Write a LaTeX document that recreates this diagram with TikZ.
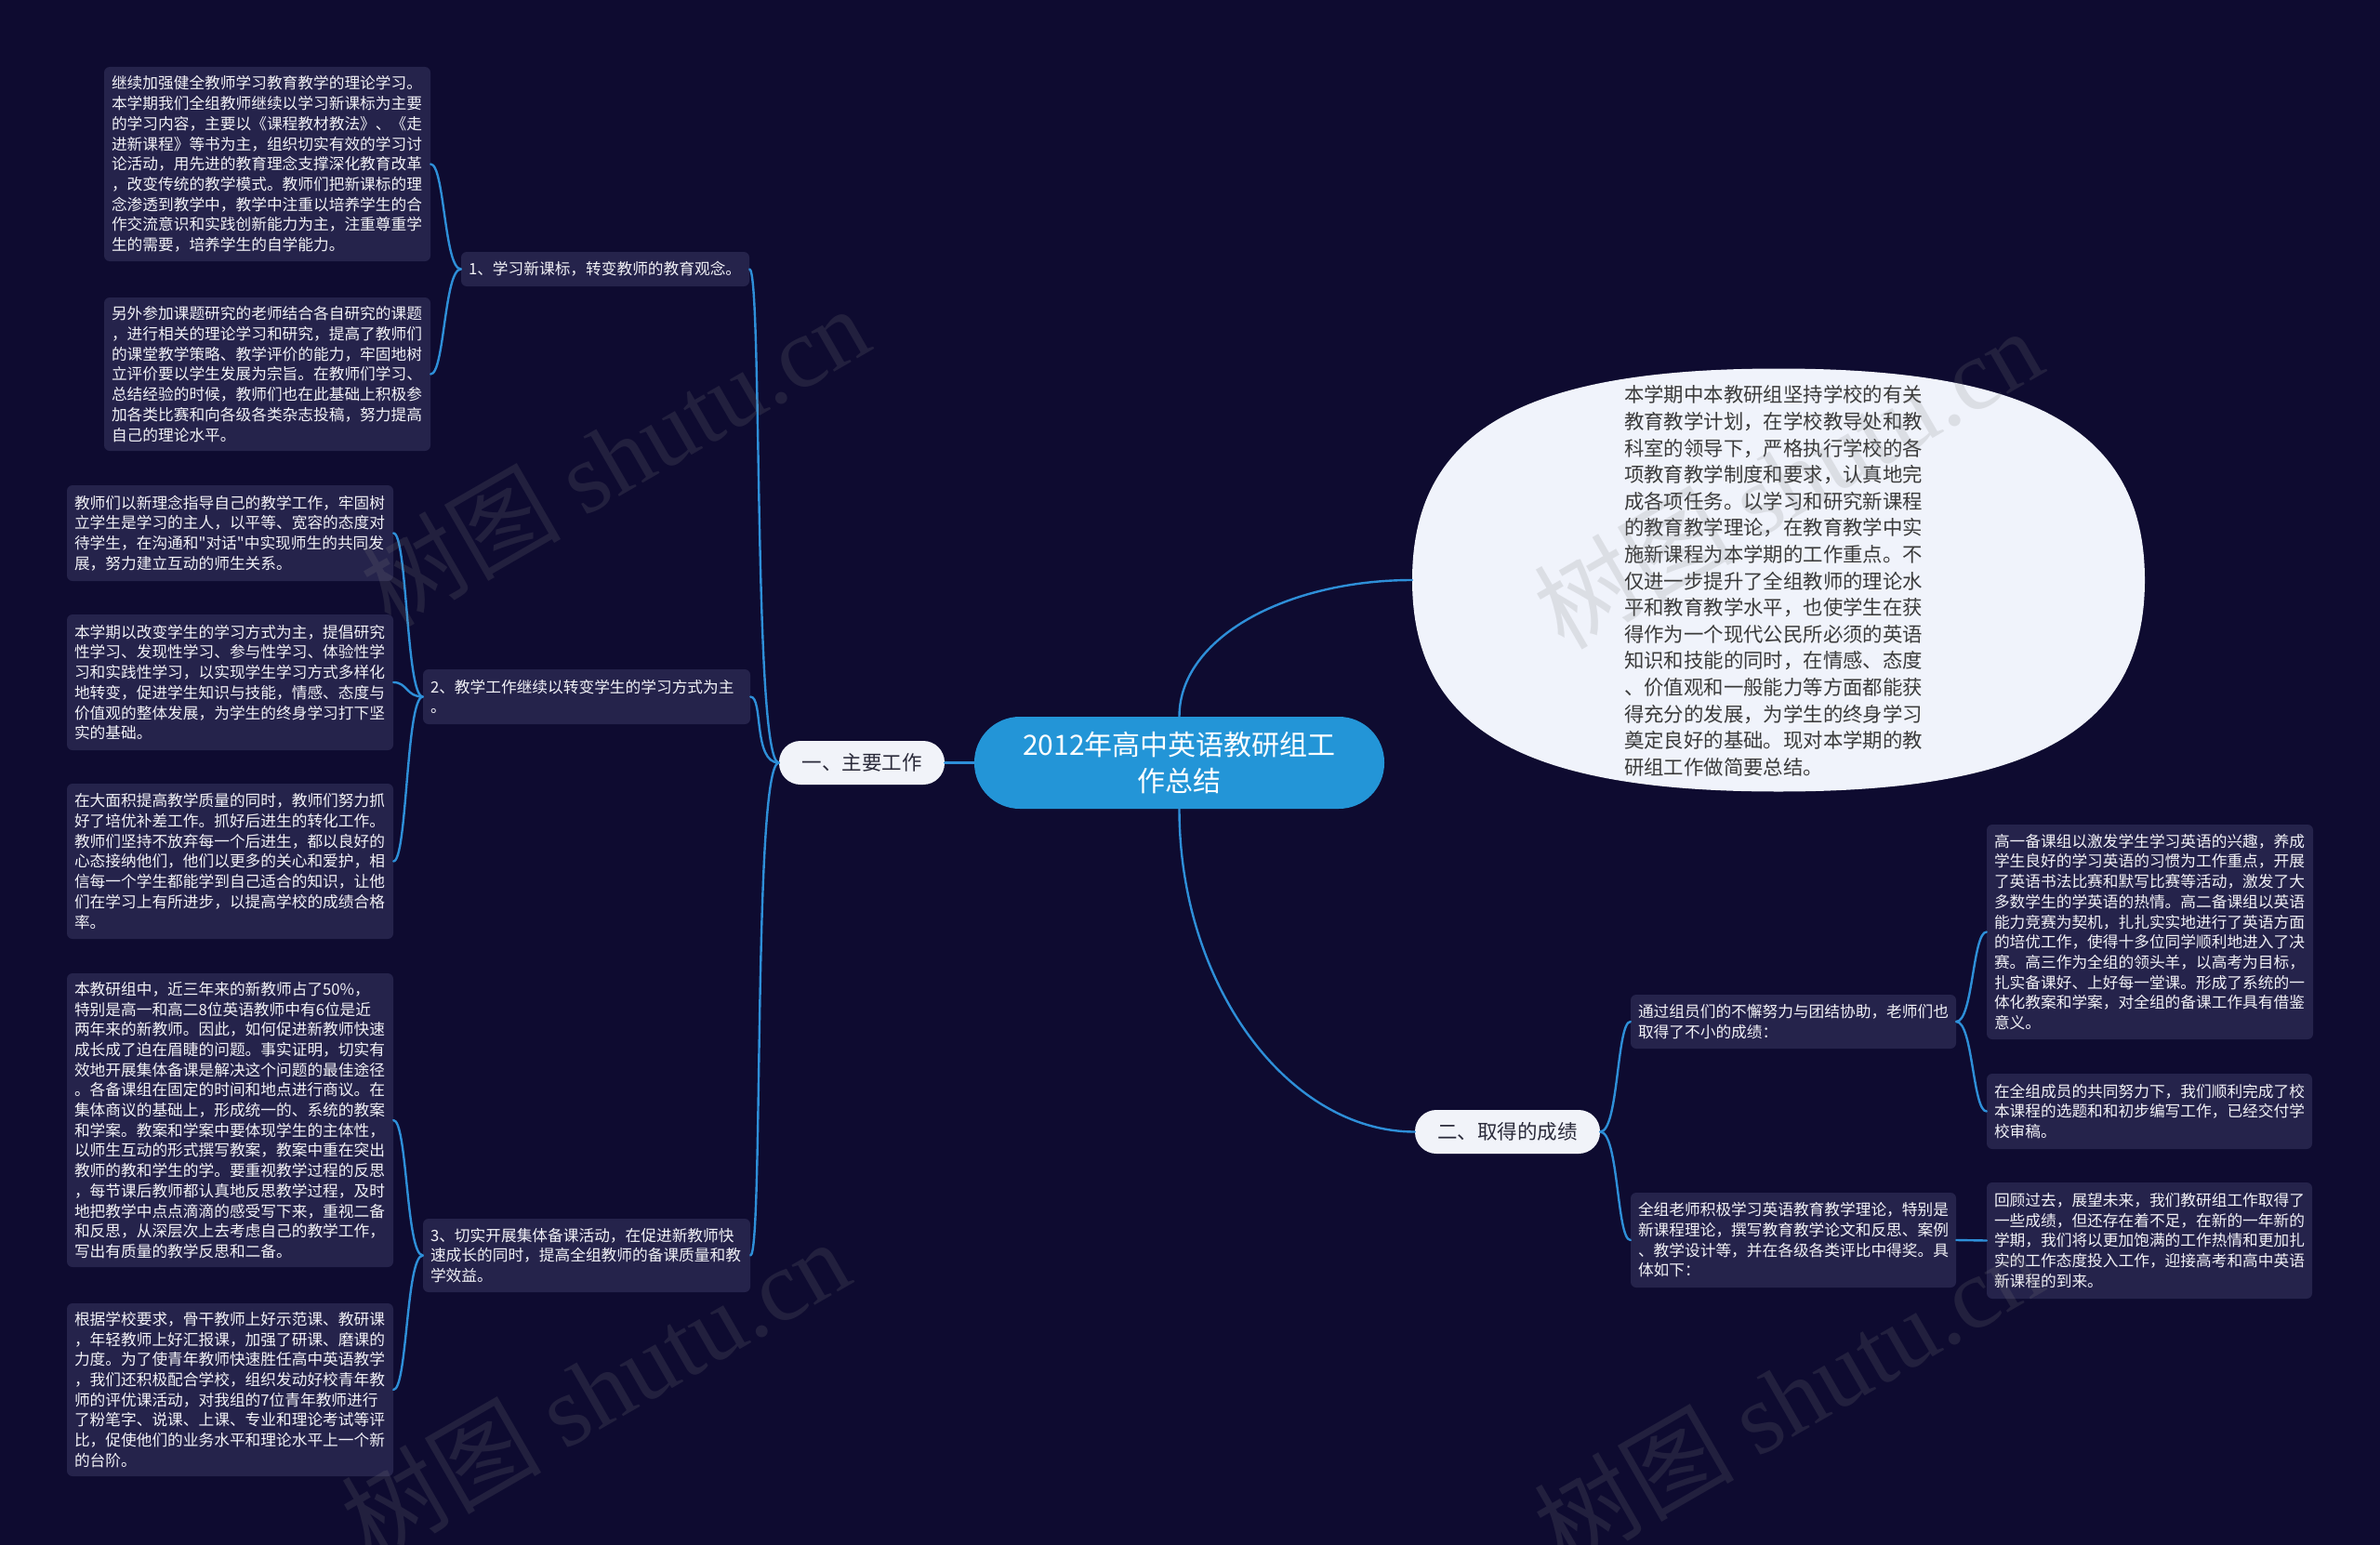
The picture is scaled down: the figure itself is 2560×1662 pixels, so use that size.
\documentclass[tikz,border=0pt]{standalone}
\usepackage{fontspec}
\setmainfont{Noto Sans CJK SC}[Ligatures=TeXOff]
\newfontfamily\wmfont{Liberation Serif}
\definecolor{bgc}{HTML}{0E0B30}
\definecolor{cardc}{HTML}{25234B}
\definecolor{linec}{HTML}{2E8FD8}
\definecolor{rootc}{HTML}{2395D7}
\definecolor{ellc}{HTML}{F0F3FB}
\definecolor{elltext}{HTML}{3A3A3A}
\definecolor{pillc}{HTML}{F1F3F9}
\definecolor{pilltext}{HTML}{2A2A3A}
\definecolor{cardtext}{HTML}{F2F2F7}
\begin{document}
\begin{tikzpicture}[x=1pt,y=-1pt,
  card/.style={fill=cardc, rounded corners=6pt, text=cardtext, align=left,
    inner xsep=8pt, inner ysep=0pt, font=\fontsize{16.7}{21.7}\selectfont},
  pill/.style={fill=pillc, rounded corners=23pt, text=pilltext, inner sep=0pt,
    minimum height=47pt, font=\fontsize{21.5}{26}\selectfont},
  conn/.style={draw=linec, line width=2.4pt, line cap=round},
  wm/.style={text=gray, opacity=0.18, rotate=30, font=\fontsize{108}{118}\selectfont}
]
\fill[bgc] (0,0) rectangle (2560,1662);
\useasboundingbox (0,0) rectangle (2560,1662);

% root and main branches
\node[fill=rootc, rounded corners=49pt, minimum width=441pt, minimum height=99pt,
  text=white, align=center, inner sep=0pt, font=\fontsize{30}{39}\selectfont]
  (root) at (1268.5,820.5) {2012年高中英语教研组工\\作总结};
% summary bubble (rounded ellipse)
\fill[ellc] (2307,624) .. controls (2307,462) and (2185,396.5) .. (1913,396.5)
  .. controls (1641,396.5) and (1519,462) .. (1519,624)
  .. controls (1519,786) and (1641,851.5) .. (1913,851.5)
  .. controls (2185,851.5) and (2307,786) .. cycle;
\coordinate (ellw) at (1519,624);
\node[text=elltext, align=left, inner sep=0pt, font=\fontsize{21.4}{28.6}\selectfont] (elltxt) at (1907.5,625) {本学期中本教研组坚持学校的有关\\教育教学计划，在学校教导处和教\\科室的领导下，严格执行学校的各\\项教育教学制度和要求，认真地完\\成各项任务。以学习和研究新课程\\的教育教学理论，在教育教学中实\\施新课程为本学期的工作重点。不\\仅进一步提升了全组教师的理论水\\平和教育教学水平，也使学生在获\\得作为一个现代公民所必须的英语\\知识和技能的同时，在情感、态度\\、价值观和一般能力等方面都能获\\得充分的发展，为学生的终身学习\\奠定良好的基础。现对本学期的教\\研组工作做简要总结。};
\node[pill, minimum width=178pt] (m1) at (927,820.5) {一、主要工作};
\node[pill, minimum width=199pt] (m2) at (1621.5,1217.5) {二、取得的成绩};

% left level 2
\node[card, text width=294pt, minimum height=37pt] (n1) at (651,289.5) {1、学习新课标，转变教师的教育观念。};
\node[card, text width=336pt, minimum height=59pt] (n2) at (631,749.5) {2、教学工作继续以转变学生的学习方式为主\\。};
\node[card, text width=336pt, minimum height=79pt] (n3) at (631,1350.5) {3、切实开展集体备课活动，在促进新教师快\\速成长的同时，提高全组教师的备课质量和教\\学效益。};

% left level 3
\node[card, text width=335pt, minimum height=209pt] (b1) at (287.5,176.5) {继续加强健全教师学习教育教学的理论学习。\\本学期我们全组教师继续以学习新课标为主要\\的学习内容，主要以《课程教材教法》、《走\\进新课程》等书为主，组织切实有效的学习讨\\论活动，用先进的教育理念支撑深化教育改革\\，改变传统的教学模式。教师们把新课标的理\\念渗透到教学中，教学中注重以培养学生的合\\作交流意识和实践创新能力为主，注重尊重学\\生的需要，培养学生的自学能力。};
\node[card, text width=335pt, minimum height=165pt] (b2) at (287.5,402.5) {另外参加课题研究的老师结合各自研究的课题\\，进行相关的理论学习和研究，提高了教师们\\的课堂教学策略、教学评价的能力，牢固地树\\立评价要以学生发展为宗旨。在教师们学习、\\总结经验的时候，教师们也在此基础上积极参\\加各类比赛和向各级各类杂志投稿，努力提高\\自己的理论水平。};
\node[card, text width=335pt, minimum height=103pt] (b3) at (247.5,573.5) {教师们以新理念指导自己的教学工作，牢固树\\立学生是学习的主人，以平等、宽容的态度对\\待学生，在沟通和"对话"中实现师生的共同发\\展，努力建立互动的师生关系。};
\node[card, text width=335pt, minimum height=146pt] (b4) at (247.5,734) {本学期以改变学生的学习方式为主，提倡研究\\性学习、发现性学习、参与性学习、体验性学\\习和实践性学习，以实现学生学习方式多样化\\地转变，促进学生知识与技能，情感、态度与\\价值观的整体发展，为学生的终身学习打下坚\\实的基础。};
\node[card, text width=335pt, minimum height=167pt] (b5) at (247.5,926.5) {在大面积提高教学质量的同时，教师们努力抓\\好了培优补差工作。抓好后进生的转化工作。\\教师们坚持不放弃每一个后进生，都以良好的\\心态接纳他们，他们以更多的关心和爱护，相\\信每一个学生都能学到自己适合的知识，让他\\们在学习上有所进步，以提高学校的成绩合格\\率。};
\node[card, text width=335pt, minimum height=316pt] (b6) at (247.5,1205) {本教研组中，近三年来的新教师占了50\%，\\特别是高一和高二8位英语教师中有6位是近\\两年来的新教师。因此，如何促进新教师快速\\成长成了迫在眉睫的问题。事实证明，切实有\\效地开展集体备课是解决这个问题的最佳途径\\。各备课组在固定的时间和地点进行商议。在\\集体商议的基础上，形成统一的、系统的教案\\和学案。教案和学案中要体现学生的主体性，\\以师生互动的形式撰写教案，教案中重在突出\\教师的教和学生的学。要重视教学过程的反思\\，每节课后教师都认真地反思教学过程，及时\\地把教学中点点滴滴的感受写下来，重视二备\\和反思，从深层次上去考虑自己的教学工作，\\写出有质量的教学反思和二备。};
\node[card, text width=335pt, minimum height=186pt] (b7) at (247.5,1495) {根据学校要求，骨干教师上好示范课、教研课\\，年轻教师上好汇报课，加强了研课、磨课的\\力度。为了使青年教师快速胜任高中英语教学\\，我们还积极配合学校，组织发动好校青年教\\师的评优课活动，对我组的7位青年教师进行\\了粉笔字、说课、上课、专业和理论考试等评\\比，促使他们的业务水平和理论水平上一个新\\的台阶。};

% right side
\node[card, text width=334pt, minimum height=58pt] (rn1) at (1929,1099) {通过组员们的不懈努力与团结协助，老师们也\\取得了不小的成绩：};
\node[card, text width=334pt, minimum height=102pt] (rn2) at (1929,1334) {全组老师积极学习英语教育教学理论，特别是\\新课程理论，撰写教育教学论文和反思、案例\\、教学设计等，并在各级各类评比中得奖。具\\体如下：};
\node[card, text width=335pt, minimum height=231pt] (rb1) at (2312.5,1002.5) {高一备课组以激发学生学习英语的兴趣，养成\\学生良好的学习英语的习惯为工作重点，开展\\了英语书法比赛和默写比赛等活动，激发了大\\多数学生的学英语的热情。高二备课组以英语\\能力竞赛为契机，扎扎实实地进行了英语方面\\的培优工作，使得十多位同学顺利地进入了决\\赛。高三作为全组的领头羊，以高考为目标，\\扎实备课好、上好每一堂课。形成了系统的一\\体化教案和学案，对全组的备课工作具有借鉴\\意义。};
\node[card, text width=334pt, minimum height=81pt] (rb2) at (2312,1195.5) {在全组成员的共同努力下，我们顺利完成了校\\本课程的选题和和初步编写工作，已经交付学\\校审稿。};
\node[card, text width=334pt, minimum height=125pt] (rb3) at (2312,1334.5) {回顾过去，展望未来，我们教研组工作取得了\\一些成绩，但还存在着不足，在新的一年新的\\学期，我们将以更加饱满的工作热情和更加扎\\实的工作态度投入工作，迎接高考和高中英语\\新课程的到来。};

% connectors
\draw[conn] (root.west) -- (m1.east);
\draw[conn] (root.north) .. controls +(0,-85) and +(-135,0) .. (ellw);
\draw[conn] (root.south) .. controls +(0,190) and +(-136,0) .. (m2.west);

\foreach \c in {n1,n2,n3}
  \draw[conn] (m1.west) .. controls +(-28,0) and +(14,0) .. (\c.east);
\foreach \c in {b1,b2}
  \draw[conn] (n1.west) .. controls +(-18,0) and +(15,0) .. (\c.east);
\foreach \c in {b3,b4,b5}
  \draw[conn] (n2.west) .. controls +(-18,0) and +(15,0) .. (\c.east);
\foreach \c in {b6,b7}
  \draw[conn] (n3.west) .. controls +(-18,0) and +(15,0) .. (\c.east);
\foreach \c in {rn1,rn2}
  \draw[conn] (m2.east) .. controls +(20,0) and +(-15,0) .. (\c.west);
\foreach \c in {rb1,rb2}
  \draw[conn] (rn1.east) .. controls +(18,0) and +(-15,0) .. (\c.west);
\draw[conn] (rn2.east) -- (rb3.west);

% watermarks
\node[wm] (wm1) at (661,490) {树图 {\wmfont shutu.cn}};
\node[wm] (wm2) at (1923,514) {树图 {\wmfont shutu.cn}};
\node[wm] (wm3) at (640,1494) {树图 {\wmfont shutu.cn}};
\node[wm] (wm4) at (1923,1502) {树图 {\wmfont shutu.cn}};
\end{tikzpicture}
\end{document}
